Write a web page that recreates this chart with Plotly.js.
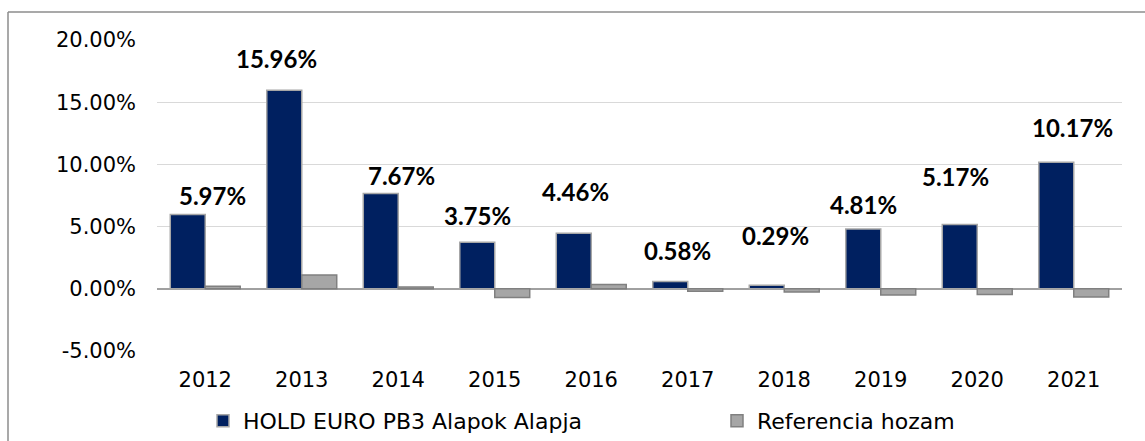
<!DOCTYPE html>
<html>
<head>
<meta charset="utf-8">
<script src="https://cdn.plot.ly/plotly-3.0.1.min.js"></script>
<style>
  html, body { margin: 0; padding: 0; background: #ffffff; }
  #chart { width: 1145px; height: 441px; }
</style>
</head>
<body>
<div id="chart"></div>
<script>
// ---- data ----
const years = ['2012', '2013', '2014', '2015', '2016', '2017', '2018', '2019', '2020', '2021'];
const fundName = 'HOLD EURO PB3 Alapok Alapja';
const refName = 'Referencia hozam';
const fundReturns = [5.97, 15.96, 7.67, 3.75, 4.46, 0.58, 0.29, 4.81, 5.17, 10.17];
const refReturns = [0.2, 1.1, 0.15, -0.7, 0.35, -0.2, -0.25, -0.5, -0.45, -0.65];
const yTicks = [-5, 0, 5, 10, 15, 20];
const yTickLabels = ['-5.00%', '0.00%', '5.00%', '10.00%', '15.00%', '20.00%'];

// ---- label placement (pixels, styling only) ----
const labelXShift = [7, -25, 3, -17, -16, -10, -9, -17, -22, -1];
const labelYShift = [19, 32, 18, 27, 42, 31, 50, 24, 48, 35];

const FONT = '"DejaVu Sans", sans-serif';
const BOLD_FONT = 'Lato, "DejaVu Sans", sans-serif';

const traces = [
  {
    type: 'bar', name: fundName, x: years, y: fundReturns, legend: 'legend',
    marker: { color: '#002060', line: { color: '#a6a6a6', width: 1.5 } },
    hoverinfo: 'x+y'
  },
  {
    type: 'bar', name: refName, x: years, y: refReturns, legend: 'legend2',
    marker: { color: '#a6a6a6', line: { color: '#808080', width: 1.5 } },
    hoverinfo: 'x+y'
  }
];

const annotations = years.map((yr, i) => ({
  x: i, y: fundReturns[i], xref: 'x', yref: 'y',
  text: '<b>' + fundReturns[i].toFixed(2) + '%</b>',
  showarrow: false, xanchor: 'center', yanchor: 'middle',
  xshift: labelXShift[i], yshift: labelYShift[i],
  font: { family: BOLD_FONT, size: 24, color: '#000000' }
}));

const legendCommon = {
  orientation: 'h', xref: 'container', yref: 'container',
  xanchor: 'left', yanchor: 'middle', y: 1 - 421 / 441,
  font: { family: FONT, size: 22, color: '#000000' },
  bgcolor: 'rgba(0,0,0,0)', itemwidth: 30
};

const layout = {
  width: 1145, height: 441,
  margin: { l: 157, r: 23, t: 40, b: 90 },
  paper_bgcolor: '#ffffff', plot_bgcolor: '#ffffff',
  barmode: 'group', bargap: 0.275, bargroupgap: 0,
  showlegend: true,
  legend: Object.assign({}, legendCommon, { x: 203 / 1145 }),
  legend2: Object.assign({}, legendCommon, { x: 717 / 1145 }),
  xaxis: {
    type: 'category', range: [-0.5, 9.5], autorange: false,
    showgrid: false, zeroline: false, showline: false,
    ticks: '', ticklabelstandoff: 14, automargin: false,
    tickfont: { family: FONT, size: 21, color: '#000000' }
  },
  yaxis: {
    range: [-5, 20], autorange: false, tickvals: yTicks, ticktext: yTickLabels,
    showgrid: true, gridcolor: '#d9d9d9', gridwidth: 1,
    zeroline: true, zerolinecolor: '#a0a0a0', zerolinewidth: 1.5,
    showline: false, ticks: '', ticklabelstandoff: 20, automargin: false,
    tickfont: { family: FONT, size: 21, color: '#000000' }
  },
  annotations: annotations,
  shapes: [
    { type: 'line', xref: 'paper', yref: 'paper',
      x0: (8 - 157) / 965, x1: (8 - 157) / 965, y0: 1 + 28 / 311, y1: -0.32,
      line: { color: '#8c8c8c', width: 1.5 } },
    { type: 'line', xref: 'paper', yref: 'paper',
      x0: (8 - 157) / 965, x1: 1.05, y0: 1 + 28 / 311, y1: 1 + 28 / 311,
      line: { color: '#8c8c8c', width: 1.5 } }
  ]
};

Plotly.newPlot('chart', traces, layout, { displayModeBar: false, staticPlot: true });
</script>
</body>
</html>
